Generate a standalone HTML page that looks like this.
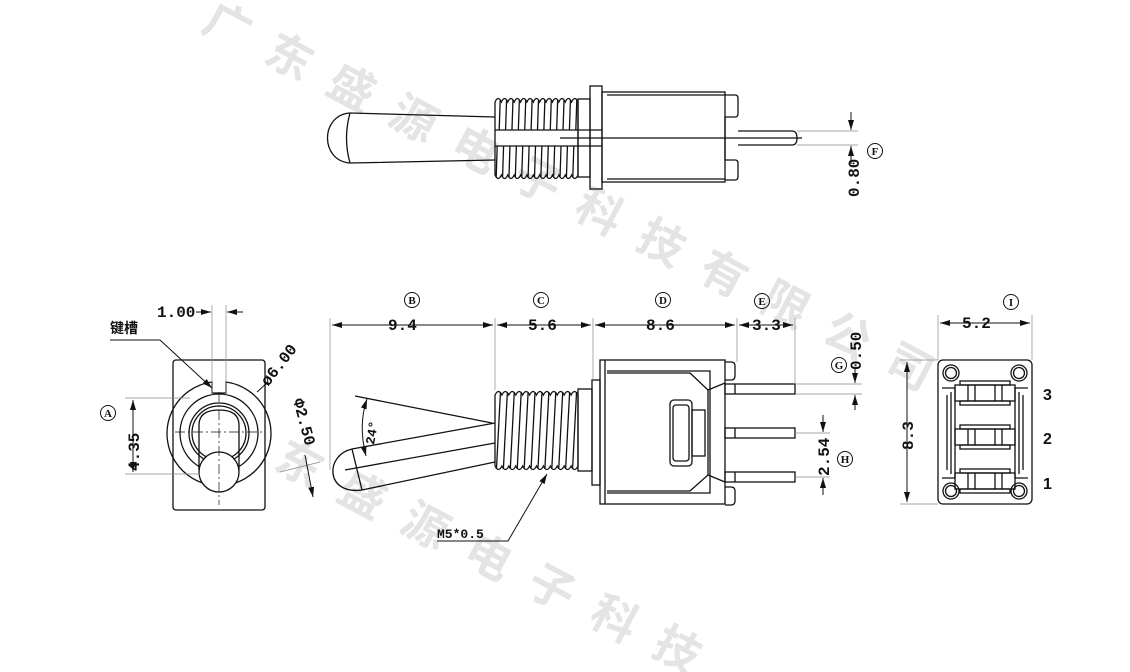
<!DOCTYPE html>
<html><head><meta charset="utf-8"><style>
html,body{margin:0;padding:0;background:#fff;width:1130px;height:672px;overflow:hidden;}
svg{display:block;}
.t{font-family:"Liberation Mono","DejaVu Sans Mono",monospace;font-size:16px;font-weight:bold;fill:#111;}
.w{font-family:"Liberation Sans","Noto Sans CJK SC",sans-serif;font-size:46px;fill:#e4e4e4;font-weight:bold;}
</style></head><body>
<svg id="s" width="1130" height="672" viewBox="0 0 1130 672" xmlns="http://www.w3.org/2000/svg">
<defs>
<marker id="a" viewBox="0 0 10 6" refX="10" refY="3" markerWidth="10" markerHeight="6" orient="auto-start-reverse" markerUnits="userSpaceOnUse"><path d="M0,0L10,3L0,6z" fill="#111"/></marker>
</defs>
<g id="wm"></g>
<g fill="none" stroke="#111" stroke-width="1.3" id="d">
<path d="M350,113 L495,117 M350,163 L495,160"/>
<path d="M350,113 C320,115 320,161 350,163"/>
<path d="M350,113 Q343,138 350,163"/>
<rect x="578" y="99" width="12" height="78"/>
<rect x="590" y="86" width="12" height="103"/>
<rect x="602" y="92" width="123" height="90"/>
<line x1="607" y1="95" x2="725" y2="95"/><line x1="607" y1="179" x2="725" y2="179"/>
<path d="M725,95 h10 q3,0 3,3 v16 q0,3 -3,3 h-10 M725,160 h10 q3,0 3,3 v14 q0,3 -3,3 h-10"/>
<line x1="725" y1="117" x2="725" y2="160"/>
<path d="M738,131 L792,131 Q797,131 797,138 Q797,145 792,145 L738,145"/>
<line x1="560" y1="138" x2="802" y2="138"/>
<path d="M352,449 L495,423 M362,490 L495,462"/>
<path d="M352,449 C325,455 325,495 362,490"/>
<line x1="352" y1="449" x2="362" y2="490"/>
<line x1="345" y1="470" x2="495" y2="443"/>
<line x1="355" y1="396" x2="492" y2="423"/>
<rect x="578" y="389" width="14" height="82"/>
<rect x="592" y="380" width="8" height="105"/>
<rect x="600" y="360" width="125" height="144"/>
<line x1="605" y1="360" x2="605" y2="504"/>
<path d="M607,371 H710 V493 H607"/>
<path d="M607,373 H690 L708,390 V475 L690,491 H607"/>
<path d="M708,390 L725,383 M708,475 L725,482"/>
<rect x="670" y="400" width="22" height="66" rx="4"/>
<rect x="673" y="405" width="16" height="56" rx="3"/>
<rect x="692" y="410" width="13" height="46"/>
<path d="M725,362 h6 q4,0 4,4 v10 q0,4 -4,4 h-6 M725,487 h6 q4,0 4,4 v10 q0,4 -4,4 h-6"/>
<rect x="725" y="384" width="70" height="10"/><line x1="735" y1="384" x2="735" y2="394"/>
<rect x="725" y="428" width="70" height="10"/><line x1="735" y1="428" x2="735" y2="438"/>
<rect x="725" y="472" width="70" height="10"/><line x1="735" y1="472" x2="735" y2="482"/>
<rect x="173" y="360" width="92" height="150" rx="3"/>
<path d="M212,382 A52,52 0 1 0 226,382 V393 H212 Z"/>
<circle cx="219" cy="433" r="39"/>
<circle cx="219" cy="433" r="30"/>
<circle cx="219" cy="433" r="27"/>
<path d="M199,470 V425 Q199,410 219,410 Q239,410 239,425 V470"/>
<circle cx="219" cy="472" r="20" fill="#fff"/>
<rect x="938" y="360" width="94" height="144" rx="5"/>
<circle cx="951" cy="373" r="8"/><circle cx="951" cy="373" r="5.5"/>
<circle cx="1019" cy="373" r="8"/><circle cx="1019" cy="373" r="5.5"/>
<circle cx="951" cy="491" r="8"/><circle cx="951" cy="491" r="5.5"/>
<circle cx="1019" cy="491" r="8"/><circle cx="1019" cy="491" r="5.5"/>
<path d="M942,388 H955 V478 H942 M1028,388 H1015 V478 H1028"/>
<path d="M947,395 V470 M1023,395 V470 M951,392 V474 M1019,392 V474"/>
</g>
<g fill="none" stroke="#888" stroke-width="0.7">
<line x1="330" y1="318" x2="330" y2="470"/><line x1="495" y1="318" x2="495" y2="390"/>
<line x1="593" y1="318" x2="593" y2="380"/><line x1="737" y1="318" x2="737" y2="362"/>
<line x1="795" y1="318" x2="795" y2="384"/>
<line x1="797" y1="131" x2="858" y2="131"/><line x1="797" y1="145" x2="858" y2="145"/>
<line x1="795" y1="384" x2="862" y2="384"/><line x1="795" y1="394" x2="862" y2="394"/>
<line x1="795" y1="433" x2="830" y2="433"/><line x1="795" y1="477" x2="830" y2="477"/>
<line x1="212" y1="305" x2="212" y2="395"/><line x1="226" y1="305" x2="226" y2="395"/>
<line x1="125" y1="398" x2="190" y2="398"/><line x1="125" y1="474" x2="200" y2="474"/>
<line x1="938" y1="315" x2="938" y2="360"/><line x1="1032" y1="315" x2="1032" y2="360"/>
<line x1="900" y1="360" x2="938" y2="360"/><line x1="900" y1="504" x2="938" y2="504"/>
<line x1="175" y1="432" x2="263" y2="432" stroke-dasharray="10,3,2,3" stroke="#111"/>
<line x1="219" y1="392" x2="219" y2="505" stroke-dasharray="10,3,2,3" stroke="#111"/>
<line x1="280" y1="472" x2="320" y2="462"/>
</g>
<g stroke="#111" stroke-width="1" fill="none">
<line x1="332" y1="325" x2="493" y2="325" marker-start="url(#a)" marker-end="url(#a)"/>
<line x1="497" y1="325" x2="591" y2="325" marker-start="url(#a)" marker-end="url(#a)"/>
<line x1="595" y1="325" x2="735" y2="325" marker-start="url(#a)" marker-end="url(#a)"/>
<line x1="739" y1="325" x2="793" y2="325" marker-start="url(#a)" marker-end="url(#a)"/>
<line x1="851" y1="112" x2="851" y2="130" marker-end="url(#a)"/>
<line x1="851" y1="164" x2="851" y2="146" marker-end="url(#a)"/>
<line x1="855" y1="367" x2="855" y2="383" marker-end="url(#a)"/>
<line x1="855" y1="410" x2="855" y2="395" marker-end="url(#a)"/>
<line x1="823" y1="415" x2="823" y2="432" marker-end="url(#a)"/>
<line x1="823" y1="495" x2="823" y2="478" marker-end="url(#a)"/>
<line x1="196" y1="312" x2="211" y2="312" marker-end="url(#a)"/>
<line x1="243" y1="312" x2="227" y2="312" marker-end="url(#a)"/>
<line x1="133" y1="400" x2="133" y2="472" marker-start="url(#a)" marker-end="url(#a)"/>
<line x1="940" y1="323" x2="1030" y2="323" marker-start="url(#a)" marker-end="url(#a)"/>
<line x1="907" y1="362" x2="907" y2="502" marker-start="url(#a)" marker-end="url(#a)"/>
<line x1="305" y1="455" x2="313" y2="497" marker-end="url(#a)"/>
<path d="M110,340 H160 L212,388" marker-end="url(#a)"/>
<line x1="268" y1="382" x2="257" y2="392"/>
<path d="M367,399 Q358,425 366,456" marker-start="url(#a)" marker-end="url(#a)"/>
<path d="M437,541 H508 L547,474" marker-end="url(#a)"/>
</g>
<g class="t">
<text x="388" y="330">9.4</text><text x="528" y="330">5.6</text>
<text x="646" y="330">8.6</text><text x="752" y="330">3.3</text>
<text transform="translate(859,197) rotate(-90)">0.80</text>
<text transform="translate(861,370) rotate(-90)">0.50</text>
<text transform="translate(829,476) rotate(-90)">2.54</text>
<text transform="translate(139,471) rotate(-90)">4.35</text>
<text x="962" y="328">5.2</text>
<text transform="translate(913,450) rotate(-90)">8.3</text>
<text x="157" y="317">1.00</text>
<text transform="translate(268,387) rotate(-52)">ø6.00</text>
<text transform="translate(293,400) rotate(75)">Φ2.50</text>
<text transform="translate(374,445) rotate(-80)" font-size="13">24°</text>
<text x="437" y="538" font-size="13">M5*0.5</text>
<text x="110" y="333" font-family="'Liberation Sans','Noto Sans CJK SC',sans-serif" font-size="14">键槽</text>
<text x="1043" y="400" font-family="'Liberation Sans',sans-serif">3</text>
<text x="1043" y="444" font-family="'Liberation Sans',sans-serif">2</text>
<text x="1043" y="489" font-family="'Liberation Sans',sans-serif">1</text>
</g>
<g id="circ" fill="none" stroke="#111" stroke-width="1"></g>
</svg>
<script>
var NS="http://www.w3.org/2000/svg",d=document.getElementById("d");
function el(t,a,p){var e=document.createElementNS(NS,t);for(var k in a)e.setAttribute(k,a[k]);(p||d).appendChild(e);return e;}
function thread(x0,x1,y0,y1,n,bore){
 var p=(x1-x0)/n,top="M"+x0+","+(y0+4),bot="M"+x0+","+(y1-4);
 for(var i=0;i<n;i++){var a=x0+i*p;
  top+=" Q"+(a+p/2)+","+(y0-3)+" "+(a+p)+","+(y0+4);
  bot+=" Q"+(a+p/2)+","+(y1+3)+" "+(a+p)+","+(y1-4);
  var lt=a+p*0.5+2,lb=a+p*0.5-2;
  if(bore){el("line",{x1:lt,y1:y0+2,x2:lt-1,y2:bore[0]});el("line",{x1:lb+1,y1:bore[1],x2:lb,y2:y1-2});}
  else el("line",{x1:lt,y1:y0+1,x2:lb,y2:y1-1});
 }
 el("path",{d:top});el("path",{d:bot});
 el("line",{x1:x0,y1:y0+4,x2:x0,y2:y1-4});el("line",{x1:x1,y1:y0+4,x2:x1,y2:y1-4});
}
thread(495,578,98,179,13,[130,146]);
el("path",{d:"M495,130 H602 M495,146 H602"});
thread(495,578,391,470,12,null);
[393,437,481].forEach(function(y){
 el("rect",{x:960,y:y-12,width:50,height:4});
 el("rect",{x:955,y:y-8,width:60,height:16});
 el("rect",{x:960,y:y+8,width:50,height:4});
 el("path",{d:"M968,"+(y-8)+" v16 M975,"+(y-8)+" v16 M995,"+(y-8)+" v16 M1002,"+(y-8)+" v16"});
});
var c=document.getElementById("circ");
[["B",412,300],["C",541,300],["D",663,300],["E",762,301],["F",875,151],["G",839,365],["H",845,459],["A",108,413],["I",1011,302]].forEach(function(q){
 el("circle",{cx:q[1],cy:q[2],r:7.5},c);
 var t=el("text",{x:q[1],y:q[2]+4,"text-anchor":"middle","font-family":"Liberation Serif,serif","font-size":"11","font-weight":"bold",fill:"#111",stroke:"none"},c);t.textContent=q[0];
});
var wm=document.getElementById("wm"),s1="广东盛源电子科技有限公司",s2="东盛源电子科技有";
for(var i=0;i<s1.length;i++){var x=220+i*62,y=40+i*31;var t=el("text",{"class":"w",x:x,y:y,"text-anchor":"middle",transform:"rotate(28 "+x+" "+y+")"},wm);t.textContent=s1[i];}
for(var i=0;i<s2.length;i++){var x=292+i*63,y=478+i*31;if(y>690)break;var t=el("text",{"class":"w",x:x,y:y,"text-anchor":"middle",transform:"rotate(28 "+x+" "+y+")"},wm);t.textContent=s2[i];}
</script>
</body></html>
